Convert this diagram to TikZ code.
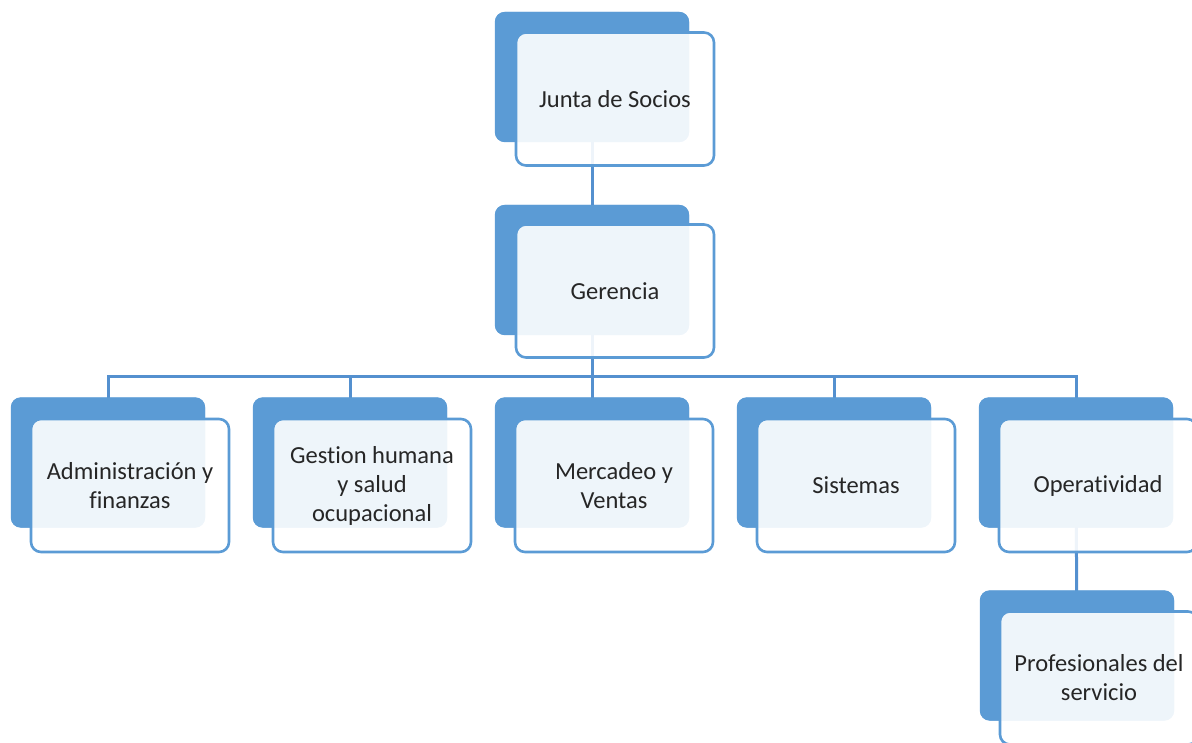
\documentclass[tikz,border=0pt]{standalone}
\usepackage{fontspec}
\setmainfont[Ligatures=NoCommon]{Carlito}
\definecolor{boxblue}{HTML}{5B9BD5}
\definecolor{lineblue}{HTML}{5490CF}
\definecolor{txt}{HTML}{262626}
\begin{document}
\begin{tikzpicture}[x=1pt,y=-1pt,
  backbox/.style={draw=none,fill=boxblue,rounded corners=10pt,minimum width=194pt,minimum height=130pt,inner sep=0pt},
  frontbox/.style={draw=boxblue,line width=2.6pt,fill=white,fill opacity=0.9,text opacity=1,rounded corners=10pt,minimum width=198pt,minimum height=133pt,inner sep=0pt,align=center,text=txt,font=\fontsize{24.5}{29}\selectfont},
  conn/.style={draw=lineblue,line width=3pt}]
\useasboundingbox (0,0) rectangle (1192,743);
% back rectangles
\node[backbox] (jb) at (592,77) {};
\node[backbox] (gb) at (592,270) {};
\node[backbox] (ab) at (108,462.5) {};
\node[backbox] (hb) at (350,462.5) {};
\node[backbox] (mb) at (592,462.5) {};
\node[backbox] (sb) at (834,462.5) {};
\node[backbox] (ob) at (1076,462.5) {};
\node[backbox] (pb) at (1077,655.5) {};
% connectors
\coordinate (bus) at (592,377);
\draw[conn] (jb.center) -- (gb.center);
\draw[conn] (gb.center) -- (bus);
\draw[conn] (bus) -| (ab.center);
\draw[conn] (bus) -| (hb.center);
\draw[conn] (bus) -- (mb.center);
\draw[conn] (bus) -| (sb.center);
\draw[conn] (bus) -| (ob.center);
\draw[conn] (ob.center) -- (pb.center);
% redraw back rectangles over connectors
\foreach \n in {jb,gb,ab,hb,mb,sb,ob,pb}{
  \fill[boxblue,rounded corners=10pt] (\n.north west) rectangle (\n.south east);
}
% front boxes with text
\node[frontbox] (jf) at (615,99) {Junta de Socios};
\node[frontbox] (gf) at (615,291) {Gerencia};
\node[frontbox] (af) at (130,485.5) {Administración y\\finanzas};
\node[frontbox] (hf) at (372,485.5) {Gestion humana\\y salud\\ocupacional};
\node[frontbox] (mf) at (614,485.5) {Mercadeo y\\Ventas};
\node[frontbox] (sf) at (856,485.5) {Sistemas};
\node[frontbox] (of) at (1098,485.5) {Operatividad};
\node[frontbox] (pf) at (1099,678) {Profesionales del\\servicio};
\end{tikzpicture}
\end{document}
